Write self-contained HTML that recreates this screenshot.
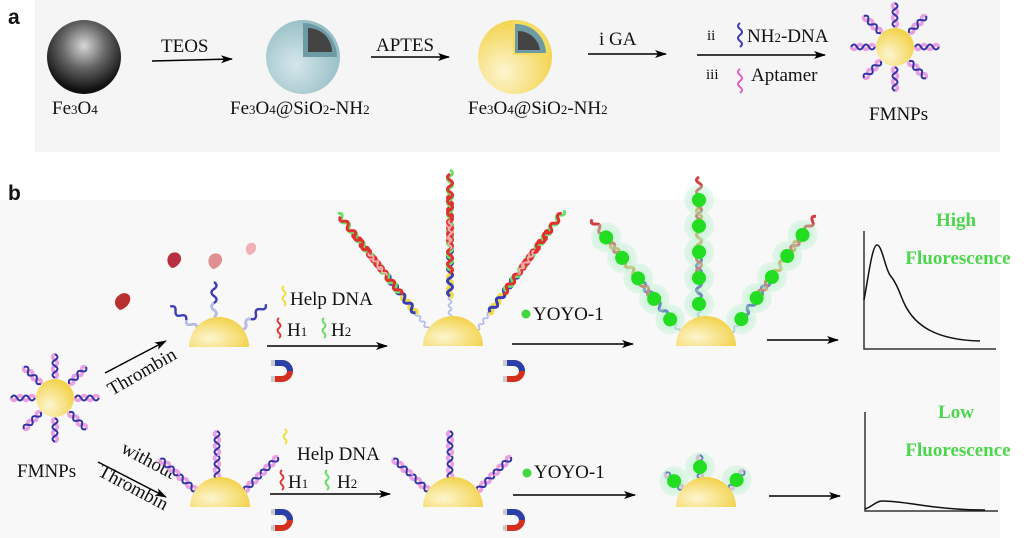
<!DOCTYPE html>
<html><head><meta charset="utf-8"><style>
html,body{margin:0;padding:0;background:#fff;}
svg{display:block;}
text{font-family:"Liberation Serif",serif;fill:#111;}
.s{font-family:"Liberation Sans",sans-serif;font-weight:bold;}
.g{font-family:"Liberation Serif",serif;font-weight:bold;fill:#4cd64c;font-size:19px;}
</style></head><body>
<svg width="1024" height="538" viewBox="0 0 1024 538" xmlns="http://www.w3.org/2000/svg">
<defs>
<radialGradient id="fe" cx="0.5" cy="0.35" r="0.6"><stop offset="0" stop-color="#d8d8d8"/><stop offset="0.5" stop-color="#666"/><stop offset="1" stop-color="#111"/></radialGradient>
<radialGradient id="si" cx="0.4" cy="0.6" r="0.7"><stop offset="0" stop-color="#d5e7ea"/><stop offset="1" stop-color="#8fb9c2"/></radialGradient>
<radialGradient id="au" cx="0.35" cy="0.7" r="0.7"><stop offset="0" stop-color="#fdf5d0"/><stop offset="1" stop-color="#f2d34c"/></radialGradient>
<radialGradient id="gb" cx="0.5" cy="0.5" r="0.5"><stop offset="0" stop-color="#9bf0b0" stop-opacity="0.6"/><stop offset="1" stop-color="#b8f0d0" stop-opacity="0.35"/></radialGradient>
<marker id="ar" markerWidth="12" markerHeight="8" refX="11" refY="4" orient="auto" markerUnits="userSpaceOnUse"><path d="M0,0 L12,4 L0,8 L3,4Z" fill="#000"/></marker>
<g id="dh">
 <path d="M0,0 q5,-3 0,-6 q-5,-3 0,-6 q5,-3 0,-6 q-5,-3 0,-6" fill="none" stroke="#e9a0e0" stroke-width="3.5"/>
 <path d="M0,0 q-5,-3 0,-6 q5,-3 0,-6 q-5,-3 0,-6 q5,-3 0,-6" fill="none" stroke="#3433a8" stroke-width="2"/>
</g>
<g id="bs"><path d="M0,0 q5,-3.5 0,-7 q-5,-3.5 0,-7 q5,-3.5 0,-7 q-5,-3.5 0,-7 q5,-3.5 0,-7" fill="none" stroke="#3a3db5" stroke-width="2.4"/><path d="M0,0 q5,-3.5 0,-7 q-5,-3.5 0,-7" fill="none" stroke="#b8bde8" stroke-width="2.4"/></g>
<g id="seg"><path d="M0,0 q5,-3 0,-6 q-5,-3 0,-6 q5,-3 0,-6 q-5,-3 0,-6 q5,-3 0,-6 q-5,-3 0,-6 q5,-3 0,-6 q-5,-3 0,-6" fill="none" stroke-width="3"/></g>
<g id="longarm">
 <use href="#seg" stroke="#b8bde8" transform="scale(0.6)"/>
 <use href="#seg" stroke="#f0dc40" y="-20"/>
 <use href="#seg" stroke="#3a3db5" y="-22" transform="scale(-1,1)"/>
 <use href="#seg" stroke="#6ae06a" y="-48" transform="scale(-1,1)"/>
 <use href="#seg" stroke="#e03030" y="-45"/>
 <use href="#seg" stroke="#f4a0a0" y="-78" transform="scale(-1,1)"/>
 <use href="#seg" stroke="#e03030" y="-75"/>
 <use href="#seg" stroke="#6ae06a" y="-100" transform="scale(-1,1)"/>
 <use href="#seg" stroke="#e03030" y="-96"/>
 <use href="#seg" stroke="#f0b0b0" y="-115" transform="scale(0.6)"/>
</g>
<g id="bead"><circle r="15" fill="url(#gb)"/><circle r="7" fill="#22dd22"/></g>
<g id="beadarm">
 <use href="#seg" stroke="#b8bde8" transform="scale(0.6)"/>
 <use href="#seg" stroke="#3a3db5" y="-15" transform="scale(-1,1)"/>
 <use href="#seg" stroke="#d04040" y="-40"/>
 <use href="#seg" stroke="#c9a040" y="-70" transform="scale(-1,1)"/>
 <use href="#seg" stroke="#d04040" y="-95"/>
 <use href="#bead" y="-16"/><use href="#bead" y="-42"/><use href="#bead" y="-68"/><use href="#bead" y="-94"/><use href="#bead" y="-120"/>
</g>
<g id="shortbead">
 <use href="#dh" y="-2"/><use href="#bead" y="-14"/>
</g>
<g id="mag"><path d="M-8,-9 L0,-9 A8,8 0 0 1 0,7 L-8,7" fill="none" stroke="#d43020" stroke-width="6"/><path d="M-8,-9 L0,-9 A8,8 0 0 1 8,-1" fill="none" stroke="#2a3fa8" stroke-width="6"/><rect x="-11" y="-12" width="4" height="6" fill="#ccc"/><rect x="-11" y="4" width="4" height="6" fill="#ccc"/></g>
<g id="star">
 <g transform="rotate(0)"><use href="#dh" y="-20"/></g>
 <g transform="rotate(45)"><use href="#dh" y="-20"/></g>
 <g transform="rotate(90)"><use href="#dh" y="-20"/></g>
 <g transform="rotate(135)"><use href="#dh" y="-20"/></g>
 <g transform="rotate(180)"><use href="#dh" y="-20"/></g>
 <g transform="rotate(225)"><use href="#dh" y="-20"/></g>
 <g transform="rotate(270)"><use href="#dh" y="-20"/></g>
 <g transform="rotate(315)"><use href="#dh" y="-20"/></g>
 <circle r="19" fill="url(#au)"/>
</g>
</defs>

<rect x="35" y="0" width="965" height="152" fill="#f5f5f5"/>
<rect x="0" y="200" width="1000" height="338" fill="#f8f8f8"/>

<text x="8" y="24" class="s" font-size="21">a</text>
<text x="8" y="200" class="s" font-size="21">b</text>

<!-- panel a -->
<circle cx="84" cy="57" r="37" fill="url(#fe)"/>
<text x="52" y="114" font-size="19">Fe<tspan font-size="13">3</tspan>O<tspan font-size="13">4</tspan></text>
<line x1="152" y1="61" x2="232" y2="59" stroke="#000" stroke-width="1.5" marker-end="url(#ar)"/>
<text x="161" y="52" font-size="19">TEOS</text>
<circle cx="303" cy="57" r="37" fill="url(#si)"/>
<path d="M303,57 L303,23 A34,34 0 0 1 337,57 Z" fill="#6d9aa5"/>
<path d="M308,52 L308,28 A24,24 0 0 1 332,52 Z" fill="#444"/>
<text x="230" y="114" font-size="19">Fe<tspan font-size="13">3</tspan>O<tspan font-size="13">4</tspan>@SiO<tspan font-size="13">2</tspan>-NH<tspan font-size="13">2</tspan></text>
<line x1="371" y1="57" x2="449" y2="57" stroke="#000" stroke-width="1.5" marker-end="url(#ar)"/>
<text x="376" y="51" font-size="19">APTES</text>
<circle cx="515" cy="57" r="37" fill="url(#au)"/>
<path d="M513,55 L513,20 A35,35 0 0 1 550,55 Z" fill="#f3dc60"/>
<path d="M515,53 L515,24 A30,30 0 0 1 546,53 Z" fill="#6d9aa5"/>
<path d="M518,50 L518,31 A22,22 0 0 1 540,50 Z" fill="#444"/>
<text x="468" y="114" font-size="19">Fe<tspan font-size="13">3</tspan>O<tspan font-size="13">4</tspan>@SiO<tspan font-size="13">2</tspan>-NH<tspan font-size="13">2</tspan></text>
<line x1="588" y1="54" x2="666" y2="54" stroke="#000" stroke-width="1.5" marker-end="url(#ar)"/>
<text x="599" y="45" font-size="19">i  GA</text>
<line x1="697" y1="55" x2="825" y2="55" stroke="#000" stroke-width="1.5" marker-end="url(#ar)"/>
<text x="707" y="40" font-size="15">ii</text>
<g transform="translate(740,47)"><path d="M0,0 q4,-3 0,-6 q-4,-3 0,-6 q4,-3 0,-6 q-4,-3 0,-6" fill="none" stroke="#3a3db5" stroke-width="2"/></g>
<text x="747" y="42" font-size="19">NH<tspan font-size="13">2</tspan>-DNA</text>
<text x="706" y="79" font-size="15">iii</text>
<g transform="translate(740,93)"><path d="M0,0 q4,-3 0,-6 q-4,-3 0,-6 q4,-3 0,-6 q-4,-3 0,-6" fill="none" stroke="#e060c0" stroke-width="2"/></g>
<text x="751" y="81" font-size="19">Aptamer</text>
<use href="#star" x="895" y="47"/>
<text x="869" y="120" font-size="19">FMNPs</text>

<!-- panel b -->
<use href="#star" x="55" y="398"/>
<text x="17" y="477" font-size="19">FMNPs</text>
<path d="M118,296 c6,-6 14,-2 12,5 c-2,6 -8,9 -10,9 c-4,-2 -8,-8 -2,-14z" fill="#b83030"/>
<line x1="105" y1="373" x2="166" y2="341" stroke="#000" stroke-width="1.5" marker-end="url(#ar)"/>
<text transform="translate(112,396) rotate(-30)" font-size="19">Thrombin</text>
<line x1="98" y1="462" x2="166" y2="497" stroke="#000" stroke-width="1.5" marker-end="url(#ar)"/>
<text transform="translate(120,452) rotate(28)" font-size="19">without</text>
<text transform="translate(97,475) rotate(28)" font-size="19">Thrombin</text>

<!-- row 1 -->
<g transform="translate(219,347)">
 <g transform="translate(-22,-18) rotate(-50)"><use href="#bs"/></g>
 <use href="#bs" x="-5" y="-30"/>
 <g transform="translate(22,-18) rotate(45)"><use href="#bs"/></g>
 <path d="M-30,0 A30,30 0 0 1 30,0 Z" fill="url(#au)"/>
</g>
<path d="M170,254 c6,-4 12,0 11,6 c-2,6 -7,8 -9,8 c-4,-2 -7,-9 -2,-14z" fill="#b83040"/>
<path d="M211,255 c6,-4 12,0 11,6 c-2,6 -7,8 -9,8 c-4,-2 -7,-9 -2,-14z" fill="#e09090"/>
<path d="M248,244 c5,-3 9,0 8,5 c-1,4 -5,6 -7,6 c-3,-2 -5,-7 -1,-11z" fill="#f0b0b8"/>
<line x1="267" y1="346" x2="387" y2="346" stroke="#000" stroke-width="1.5" marker-end="url(#ar)"/>
<g transform="translate(284,306)"><path d="M0,0 q3,-2.5 0,-5 q-3,-2.5 0,-5 q3,-2.5 0,-5 q-3,-2.5 0,-5" fill="none" stroke="#f0dc30" stroke-width="1.8"/></g>
<text x="290" y="305" font-size="19">Help DNA</text>
<g transform="translate(279,338)"><path d="M0,0 q3,-2.5 0,-5 q-3,-2.5 0,-5 q3,-2.5 0,-5 q-3,-2.5 0,-5" fill="none" stroke="#e03030" stroke-width="1.8"/></g>
<text x="287" y="336" font-size="19">H<tspan font-size="13">1</tspan></text>
<g transform="translate(324,338)"><path d="M0,0 q3,-2.5 0,-5 q-3,-2.5 0,-5 q3,-2.5 0,-5 q-3,-2.5 0,-5" fill="none" stroke="#60dd60" stroke-width="1.8"/></g>
<text x="331" y="336" font-size="19">H<tspan font-size="13">2</tspan></text>
<use href="#mag" x="282" y="372"/>

<g transform="translate(453,346)">
 <g transform="translate(-24,-16) rotate(-38)"><use href="#longarm"/></g>
 <use href="#longarm" x="-3" y="-28"/>
 <g transform="translate(24,-16) rotate(36)"><use href="#longarm"/></g>
 <path d="M-30,0 A30,30 0 0 1 30,0 Z" fill="url(#au)"/>
</g>
<line x1="512" y1="344" x2="633" y2="344" stroke="#000" stroke-width="1.5" marker-end="url(#ar)"/>
<circle cx="526" cy="314" r="4.5" fill="#3fd93f"/>
<text x="533" y="320" font-size="19">YOYO-1</text>
<use href="#mag" x="514" y="372"/>

<g transform="translate(706,346)">
 <g transform="translate(-26,-14) rotate(-38)"><use href="#beadarm"/></g>
 <use href="#beadarm" x="-7" y="-26"/>
 <g transform="translate(26,-14) rotate(36)"><use href="#beadarm"/></g>
 <path d="M-30,0 A30,30 0 0 1 30,0 Z" fill="url(#au)"/>
</g>
<line x1="767" y1="340" x2="838" y2="340" stroke="#000" stroke-width="1.5" marker-end="url(#ar)"/>
<path d="M864,231 L864,349 L996,349" fill="none" stroke="#333" stroke-width="1.5"/>
<path d="M864,300 C868,280 872,245 877,245 C882,245 885,268 890,275 C898,285 900,295 905,305 C915,325 935,340 980,341" fill="none" stroke="#111" stroke-width="1.5"/>
<text x="956" y="226" class="g" text-anchor="middle">High</text>
<text x="958" y="264" class="g" text-anchor="middle">Fluorescence</text>

<!-- row 2 -->
<g transform="translate(220,507)">
 <g transform="translate(-24,-16) rotate(-48)"><use href="#dh"/><use href="#dh" y="-24"/></g>
 <use href="#dh" x="-3" y="-28"/><use href="#dh" x="-3" y="-52"/>
 <g transform="translate(24,-16) rotate(45)"><use href="#dh"/><use href="#dh" y="-24"/></g>
 <path d="M-30,0 A30,30 0 0 1 30,0 Z" fill="url(#au)"/>
</g>
<line x1="270" y1="494" x2="390" y2="494" stroke="#000" stroke-width="1.5" marker-end="url(#ar)"/>
<g transform="translate(285,444)"><path d="M0,0 q3,-2.5 0,-5 q-3,-2.5 0,-5 q3,-2.5 0,-5" fill="none" stroke="#f0dc30" stroke-width="1.8"/></g>
<text x="297" y="460" font-size="19">Help DNA</text>
<g transform="translate(282,490)"><path d="M0,0 q3,-2.5 0,-5 q-3,-2.5 0,-5 q3,-2.5 0,-5 q-3,-2.5 0,-5" fill="none" stroke="#e03030" stroke-width="1.8"/></g>
<text x="288" y="488" font-size="19">H<tspan font-size="13">1</tspan></text>
<g transform="translate(327,490)"><path d="M0,0 q3,-2.5 0,-5 q-3,-2.5 0,-5 q3,-2.5 0,-5 q-3,-2.5 0,-5" fill="none" stroke="#60dd60" stroke-width="1.8"/></g>
<text x="337" y="488" font-size="19">H<tspan font-size="13">2</tspan></text>
<use href="#mag" x="282" y="521"/>

<g transform="translate(453,507)">
 <g transform="translate(-24,-16) rotate(-48)"><use href="#dh"/><use href="#dh" y="-24"/></g>
 <use href="#dh" x="-3" y="-28"/><use href="#dh" x="-3" y="-52"/>
 <g transform="translate(24,-16) rotate(45)"><use href="#dh"/><use href="#dh" y="-24"/></g>
 <path d="M-30,0 A30,30 0 0 1 30,0 Z" fill="url(#au)"/>
</g>
<line x1="513" y1="495" x2="635" y2="495" stroke="#000" stroke-width="1.5" marker-end="url(#ar)"/>
<circle cx="527" cy="473" r="4.5" fill="#3fd93f"/>
<text x="534" y="478" font-size="19">YOYO-1</text>
<use href="#mag" x="514" y="521"/>

<g transform="translate(706,507)">
 <g transform="translate(-22,-16) rotate(-45)"><use href="#shortbead"/></g>
 <use href="#shortbead" x="-6" y="-26"/>
 <g transform="translate(22,-16) rotate(38)"><use href="#shortbead"/></g>
 <path d="M-30,0 A30,30 0 0 1 30,0 Z" fill="url(#au)"/>
</g>
<line x1="769" y1="496" x2="840" y2="496" stroke="#000" stroke-width="1.5" marker-end="url(#ar)"/>
<path d="M865,412 L865,511 L998,511" fill="none" stroke="#333" stroke-width="1.5"/>
<path d="M865,509 C872,507 876,501 882,501 C895,501 905,503 920,505 C940,508 960,510 985,510" fill="none" stroke="#111" stroke-width="1.5"/>
<text x="956" y="418" class="g" text-anchor="middle">Low</text>
<text x="958" y="456" class="g" text-anchor="middle">Fluorescence</text>
</svg>
</body></html>
